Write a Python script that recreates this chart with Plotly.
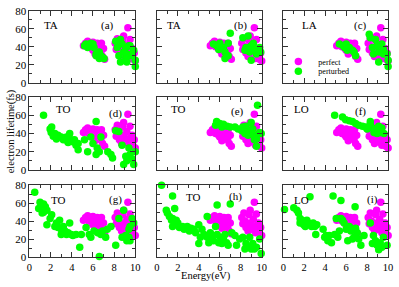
import plotly.graph_objects as go

# ---------------- data ----------------
perfect_x = [5.1, 5.3, 5.5, 5.6, 5.8, 5.9, 6.0, 6.0, 6.1, 6.2, 6.3, 6.3, 6.4, 6.5, 6.6, 6.7,
             6.75, 6.8, 6.9, 7.0, 7.1,
             8.1, 8.2, 8.3, 8.4, 8.5, 8.6, 8.7, 8.8, 8.9, 8.9, 9.0, 9.1, 9.2, 9.3, 9.4,
             9.5, 9.5, 9.6, 9.7, 9.8, 9.9, 10.0]
perfect_y = [41, 44, 46, 40, 43, 38, 45, 36, 41, 32, 34, 39, 44, 42, 37, 40,
             33, 44, 29, 38, 26,
             44, 37, 49, 40, 33, 36, 29, 47, 52, 38, 34, 31, 42, 61, 27,
             48, 35, 31, 38, 26, 33, 24]

pert_a_x = [5.2, 5.35, 5.5, 5.67, 5.8, 6.0, 6.1, 6.3, 6.3, 6.4, 6.6, 6.6, 6.75, 6.9, 7.05,
            8.15, 8.3, 8.45, 8.6, 8.6, 8.75, 8.9, 9.1, 9.1, 9.2, 9.2, 9.4, 9.5, 9.5, 9.7, 9.85, 10.0, 10.0]
pert_a_y = [41, 43, 39, 41, 44, 43, 39, 32, 30, 32, 34, 27, 30, 28, 27,
            46, 39, 30, 48, 23, 43, 34, 39, 28, 32, 23, 41, 41, 30, 32, 36, 25, 18]

pert_b_x = [5.4, 5.7, 5.9, 6.0, 6.35, 6.5, 6.5, 6.8, 6.8, 7.0,
            8.2, 8.4, 8.5, 8.7, 8.85, 9.0, 9.0, 9.2, 9.3, 9.5, 9.8, 9.9]
pert_b_y = [43, 41, 37, 44, 39, 34, 27, 30, 44, 55,
            50, 36, 39, 52, 34, 41, 25, 44, 37, 32, 39, 34]

pert_c_x = [5.35, 5.7, 5.85, 6.0, 6.1, 6.3, 6.6, 6.75, 6.9,
            8.2, 8.3, 8.5, 8.6, 8.8, 8.95, 9.1, 9.1, 9.4, 9.55, 9.55, 9.9, 10.0, 10.0]
pert_c_y = [43, 41, 39, 43, 36, 39, 36, 34, 30,
            54, 50, 39, 32, 48, 41, 34, 23, 43, 37, 32, 32, 25, 18]

pert_d_x = [1.33, 1.95, 2.05, 2.1, 2.25, 2.4, 2.55, 2.7, 3.0, 3.2, 3.5, 3.65, 3.65, 3.8, 3.95,
            4.1, 4.25, 4.4, 4.6, 4.6, 5.2, 5.5, 5.8, 6.0, 6.3, 6.3, 6.4, 6.6, 6.75, 7.4,
            7.7, 7.85, 8.15, 8.45, 8.75, 8.9, 9.1, 9.2, 9.4, 9.5, 9.7, 9.85, 10.0]
pert_d_y = [60, 45, 41, 47, 37, 40, 34, 38, 36, 33, 36, 31, 30, 40, 33,
            31, 33, 27, 29, 22, 33, 20, 36, 29, 53, 17, 24, 20, 36, 20,
            17, 13, 43, 42, 27, 6, 15, 10, 24, 17, 12, 6, 20]

pert_e_x = [5.6, 5.7, 6.0, 6.2, 6.35, 6.7, 7.0, 7.45, 7.75, 8.1, 8.2, 8.4, 8.5, 8.7, 8.85,
            9.0, 9.15, 9.3, 9.3, 9.5, 9.5, 9.6, 9.8, 9.95]
pert_e_y = [49, 53, 51, 47, 50, 48, 47, 47, 45, 43, 47, 40, 48, 38, 43,
            52, 45, 38, 33, 34, 26, 71, 41, 40]

pert_f_x = [4.9, 5.65, 5.95, 6.3, 6.6, 6.9, 7.2, 7.55, 7.85, 8.0, 8.3, 8.3, 8.5, 8.65, 8.8,
            8.95, 9.1, 9.25, 9.4, 9.6]
pert_f_y = [60, 58, 55, 54, 53, 51, 49, 48, 47, 45, 50, 53, 46, 41, 44,
            40, 48, 41, 46, 40]

pert_g_x = [0.5, 0.87, 1.0, 1.2, 1.33, 1.33, 1.5, 1.65, 1.65, 1.95, 2.1, 2.4, 2.55, 2.7, 2.85,
            3.0, 3.0, 3.2, 3.35, 3.5, 3.65, 3.8, 3.95, 4.1, 4.4, 4.75, 4.9, 5.35, 5.65, 5.8,
            6.1, 6.45, 6.6, 6.75, 6.9, 7.2, 7.35, 7.7, 8.15, 8.45, 8.75, 8.9, 9.1, 9.2, 9.4,
            9.4, 9.5, 9.5, 9.7, 9.85]
pert_g_y = [72, 54, 61, 49, 59, 50, 56, 52, 36, 43, 47, 34, 38, 33, 41,
            31, 25, 34, 29, 25, 27, 38, 25, 24, 25, 11, 25, 33, 25, 22,
            29, 27, 0.5, 25, 29, 22, 31, 34, 13, 43, 22, 52, 24, 18, 22,
            31, 18, 34, 43, 38]

pert_h_x = [0.45, 0.9, 1.0, 1.2, 1.4, 1.5, 1.5, 1.5, 1.7, 1.7, 1.85, 2.0, 2.15, 2.45, 2.6,
            2.9, 3.1, 3.25, 3.55, 3.7, 4.0, 4.0, 4.15, 4.3, 4.5, 4.8, 4.8, 4.95, 5.1, 5.25,
            5.4, 5.6, 5.75, 5.75, 5.9, 6.05, 6.2, 6.35, 6.5, 6.65, 6.8, 7.0, 7.15, 7.45, 7.6,
            7.9, 8.2, 8.4, 8.5, 8.7, 8.85, 9.0, 9.15, 9.3, 9.5, 9.8, 9.95]
pert_h_y = [80, 52, 49, 45, 41, 68, 43, 34, 54, 40, 41, 38, 33, 34, 31,
            34, 29, 32, 31, 27, 36, 15, 22, 31, 25, 45, 22, 16, 27, 22,
            18, 34, 58, 25, 16, 22, 15, 20, 25, 16, 13, 59, 27, 24, 13,
            20, 22, 9, 15, 11, 22, 9, 15, 9, 11, 20, 4]

pert_i_x = [0.12, 1.0, 1.3, 1.45, 1.6, 1.6, 1.8, 1.95, 2.1, 2.25, 2.4, 2.55, 2.7, 2.85, 3.0,
            3.1, 3.2, 3.8, 3.95, 4.1, 4.25, 4.4, 4.6, 4.75, 4.9, 5.05, 5.2, 5.35, 5.5, 5.5,
            5.65, 5.8, 6.0, 6.15, 6.3, 6.45, 6.6, 6.75, 6.85, 6.9, 7.05, 7.2, 7.4, 7.7, 8.3,
            8.5, 8.6, 8.8, 8.95, 9.1, 9.25, 9.4, 9.55, 9.9]
pert_i_y = [53, 55, 52, 49, 43, 38, 41, 36, 34, 41, 38, 67, 34, 38, 34,
            25, 36, 31, 22, 24, 18, 24, 16, 68, 25, 43, 22, 29, 63, 43,
            41, 38, 31, 18, 34, 29, 20, 22, 56, 32, 27, 20, 13, 24, 38,
            15, 24, 18, 13, 8, 16, 11, 22, 13]

perturbed_x = [pert_a_x, pert_b_x, pert_c_x, pert_d_x, pert_e_x, pert_f_x, pert_g_x, pert_h_x, pert_i_x]
perturbed_y = [pert_a_y, pert_b_y, pert_c_y, pert_d_y, pert_e_y, pert_f_y, pert_g_y, pert_h_y, pert_i_y]

mode_labels = ["TA", "TA", "LA", "TO", "TO", "LO", "TO", "TO", "LO"]
panel_labels = ["(a)", "(b)", "(c)", "(d)", "(e)", "(f)", "(g)", "(h)", "(i)"]
mode_label_x = [1.2, 0.75, 1.6, 2.3, 1.2, 0.85, 1.85, 2.6, 0.85]
mode_label_y = [64, 64, 64, 67, 67, 67, 64, 67, 64]
panel_label_x = [7.4, 8.0, 7.4, 8.1, 7.7, 7.4, 8.1, 7.5, 8.5]
panel_label_y = [64, 64, 64, 62, 64, 64, 64, 67, 64]

x_ticks = [0, 2, 4, 6, 8, 10]
y_ticks = [0, 20, 40, 60, 80]

# ---------------- layout geometry ----------------
W, H = 399, 287
col_px = [(27, 135), (157, 264), (286, 393)]
row_px = [(5, 80), (95, 171), (187, 262)]

FONT = "Liberation Serif, Times New Roman, serif"
MAGENTA = "#ff00ff"
GREEN = "#00ff00"
AXC = "#333333"
MSIZE = 7.5

fig = go.Figure()
annotations = []

for k in range(9):
    r, c = divmod(k, 3)
    sfx = "" if k == 0 else str(k + 1)
    fig.add_trace(go.Scatter(
        x=perfect_x, y=perfect_y, mode="markers",
        marker=dict(color=MAGENTA, size=MSIZE, line=dict(width=0)),
        xaxis="x" + sfx, yaxis="y" + sfx, cliponaxis=False,
        name="perfect", showlegend=(k == 2), legend="legend"))
    fig.add_trace(go.Scatter(
        x=perturbed_x[k], y=perturbed_y[k], mode="markers",
        marker=dict(color=GREEN, size=MSIZE, line=dict(width=0)),
        xaxis="x" + sfx, yaxis="y" + sfx, cliponaxis=False,
        name="perturbed", showlegend=(k == 2), legend="legend2"))

    x0, x1 = col_px[c]
    t, b = row_px[r]
    xa = dict(domain=[x0 / W, x1 / W], range=[0, 10], anchor="y" + sfx,
              tickvals=x_ticks, ticks="inside", ticklen=5, tickwidth=1, tickcolor=AXC,
              minor=dict(ticks="inside", ticklen=3, dtick=1, tick0=0, tickcolor=AXC),
              showline=True, linecolor=AXC, linewidth=1, mirror="ticks",
              showgrid=False, zeroline=False, showticklabels=(r == 2),
              tickfont=dict(family=FONT, size=10.5, color="#000"))
    ya = dict(domain=[(H - b) / H, (H - t) / H], range=[0, 80], anchor="x" + sfx,
              tickvals=y_ticks, ticks="inside", ticklen=5, tickwidth=1, tickcolor=AXC,
              minor=dict(ticks="inside", ticklen=3, dtick=10, tick0=0, tickcolor=AXC),
              showline=True, linecolor=AXC, linewidth=1, mirror="ticks",
              showgrid=False, zeroline=False, showticklabels=(c == 0),
              tickfont=dict(family=FONT, size=11, color="#000"))
    fig.update_layout(**{"xaxis" + sfx: xa, "yaxis" + sfx: ya})

    annotations.append(dict(text=mode_labels[k], x=mode_label_x[k], y=mode_label_y[k],
                            xref="x" + sfx, yref="y" + sfx, xanchor="left", yanchor="middle",
                            showarrow=False, font=dict(family=FONT, size=11, color="#000")))
    annotations.append(dict(text=panel_labels[k], x=panel_label_x[k], y=panel_label_y[k],
                            xref="x" + sfx, yref="y" + sfx, xanchor="center", yanchor="middle",
                            showarrow=False, font=dict(family=FONT, size=11, color="#000")))

annotations.append(dict(text="Energy(eV)", x=207 / W, y=(H - 281.5) / H, xref="paper", yref="paper",
                        xanchor="center", yanchor="middle", showarrow=False,
                        font=dict(family=FONT, size=10.5, color="#000")))
annotations.append(dict(text="electron lifetime(fs)", x=8 / W, y=(H - 131) / H, xref="paper",
                        yref="paper", xanchor="center", yanchor="middle", textangle=-90,
                        showarrow=False, font=dict(family=FONT, size=10.5, color="#000")))

leg_common = dict(xanchor="left", yanchor="middle", bgcolor="rgba(0,0,0,0)", borderwidth=0,
                  font=dict(family=FONT, size=8, color="#000"), itemsizing="trace")
fig.update_layout(
    width=W, height=H, margin=dict(l=0, r=0, t=0, b=0),
    paper_bgcolor="white", plot_bgcolor="white",
    annotations=annotations,
    legend=dict(x=281 / W, y=(H - 58) / H, **leg_common),
    legend2=dict(x=281 / W, y=(H - 68) / H, **leg_common),
)

fig.write_html("out.html", config={"displayModeBar": False},
               post_script="document.body.style.margin='0px';document.body.style.overflow='hidden';")
